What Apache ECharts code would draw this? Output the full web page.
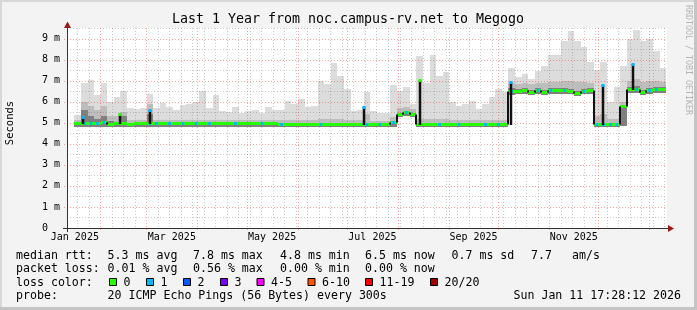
<!DOCTYPE html>
<html>
<head>
<meta charset="utf-8">
<script src="https://cdn.jsdelivr.net/npm/echarts@6.0.0/dist/echarts.min.js"></script>
<style>
html,body{margin:0;padding:0;background:#f3f3f3;}
#chart{width:697px;height:310px;}
</style>
</head>
<body>
<div id="chart"></div>
<script>
// ---------------- data ----------------
// 4-day buckets starting 2025-01-16 06:00 UTC
const bucketFirst = Date.UTC(2025, 0, 16, 6, 0, 0);
const bucketDays = 4;
const medianMs = [4.97,4.97,4.97,4.98,5.02,4.95,4.97,4.97,4.95,4.97,
  4.97,4.97,4.97,4.97,4.97,4.97,4.97,4.97,4.97,4.97,
  4.97,4.97,4.98,4.98,4.98,4.98,4.98,4.98,4.98,4.98,
  4.98,4.96,4.96,4.96,4.96,4.96,4.96,4.96,4.96,4.96,
  4.96,4.96,4.96,4.96,4.96,4.94,4.94,4.94,5.05,5.42,
  5.50,5.42,4.94,4.94,4.94,4.94,4.94,4.94,4.94,4.94,
  4.94,4.94,4.94,4.94,4.94,4.94,6.52,6.52,6.55,6.45,
  6.55,6.45,6.55,6.55,6.55,6.50,6.42,6.50,6.55,4.94,
  4.94,4.94,4.94,5.80,6.60,6.60,6.45,6.55,6.58,6.60];
const smokeLowMs = [4.80,4.80,4.80,4.80,4.80,4.80,4.80,4.80,4.80,4.80,
  4.80,4.80,4.80,4.80,4.80,4.80,4.80,4.80,4.80,4.80,
  4.80,4.80,4.80,4.80,4.80,4.80,4.80,4.80,4.80,4.80,
  4.80,4.80,4.80,4.80,4.80,4.80,4.80,4.80,4.80,4.80,
  4.80,4.80,4.80,4.80,4.80,4.78,4.78,4.78,4.80,5.25,
  5.30,5.25,4.80,4.78,4.78,4.78,4.78,4.78,4.78,4.78,
  4.78,4.78,4.78,4.78,4.78,4.78,6.30,6.35,6.38,6.30,
  6.38,6.30,6.38,6.38,6.38,6.35,6.28,6.35,6.38,4.80,
  4.80,4.80,4.80,4.85,6.42,6.40,6.30,6.38,6.40,6.42];
const smokeDarkMs = [4.97,5.60,5.30,5.20,5.30,5.10,5.05,5.30,4.95,4.97,
  4.97,5.40,4.97,4.97,4.97,4.97,4.97,4.97,4.97,4.97,
  4.97,4.97,4.98,4.98,4.98,4.98,4.98,4.98,4.98,4.98,
  4.98,4.96,4.96,4.96,4.96,4.96,4.96,4.96,4.96,4.96,
  4.96,4.96,4.96,4.96,4.96,4.94,4.94,4.94,5.05,5.42,
  5.50,5.42,4.94,4.94,4.94,4.94,4.94,4.94,4.94,4.94,
  4.94,4.94,4.94,4.94,4.94,4.94,6.65,6.62,6.65,6.55,
  6.65,6.55,6.65,6.65,6.65,6.60,6.52,6.60,6.65,5.00,
  4.94,4.94,4.94,5.85,6.70,6.75,6.55,6.65,6.68,6.70];
const smokeMidMs = [5.15,6.00,5.80,5.60,5.80,5.30,5.30,5.50,5.15,5.15,
  5.15,5.90,5.15,5.15,5.15,5.15,5.15,5.15,5.15,5.15,
  5.15,5.15,5.15,5.15,5.15,5.15,5.15,5.15,5.15,5.15,
  5.15,5.15,5.15,5.15,5.15,5.15,5.15,5.20,5.20,5.20,
  5.20,5.15,5.15,5.15,5.40,5.10,5.10,5.10,5.25,5.70,
  5.75,5.65,5.20,5.20,5.20,5.20,5.20,5.15,5.15,5.15,
  5.15,5.15,5.15,5.15,5.15,5.15,6.90,6.85,6.90,6.85,
  6.90,6.90,6.95,6.95,7.00,7.00,6.95,6.95,6.90,5.30,
  5.40,5.20,5.20,6.00,7.00,7.10,6.95,7.00,7.00,6.95];
const smokeMaxMs = [5.35,6.90,7.05,6.30,6.90,6.00,6.20,6.50,5.70,5.65,
  5.70,6.35,5.70,5.95,5.75,5.60,5.85,5.90,6.00,6.50,
  5.70,6.30,5.55,5.50,5.75,5.45,5.55,5.60,5.45,5.75,
  5.60,5.60,6.05,5.90,6.15,5.75,5.80,7.00,6.85,7.85,
  7.20,6.60,5.55,5.60,6.45,5.55,5.45,5.45,6.80,6.50,
  6.70,5.90,8.15,6.90,8.20,7.20,7.40,6.00,5.80,5.90,
  6.05,5.65,5.90,6.20,6.60,6.45,7.60,7.15,7.30,7.10,
  7.45,7.70,8.20,8.20,8.90,9.35,8.90,8.60,7.90,7.50,
  7.90,6.00,6.70,7.70,9.00,9.40,8.90,9.00,8.40,7.60];
const lossIndex = [0,1,1,1,1,0,0,0,0,0,
  0,1,1,0,1,0,1,0,1,0,
  1,0,0,0,1,0,0,0,1,0,
  0,1,0,0,0,0,0,1,0,0,
  0,0,0,0,1,0,1,0,1,0,
  1,0,0,0,0,1,0,0,1,0,
  0,0,1,0,1,0,1,0,0,0,
  1,0,1,0,1,0,0,1,0,1,
  1,1,1,0,0,1,0,1,1,0];

// short-lived median spikes (date, level before, peak, loss colour index)
const spikeDates = ['2025-01-21T04:00Z','2025-02-12T23:00Z','2025-03-02T22:00Z','2025-07-11T10:00Z',
  '2025-08-14T11:00Z','2025-10-08T13:00Z','2025-12-04T02:00Z','2025-12-21T22:00Z'];
const spikeBaseMs = [4.97,4.97,4.97,4.96,4.94,4.94,4.94,6.60];
const spikePeakMs = [5.28,5.40,5.62,5.76,7.03,6.92,6.80,7.80];
const spikeLoss = [1,0,1,1,0,1,1,1];

const yTickValues = [0,1,2,3,4,5,6,7,8,9];
const xLabelMonths = [[2025,0],[2025,2],[2025,4],[2025,6],[2025,8],[2025,10]];
const monthNames = ['Jan','Feb','Mar','Apr','May','Jun','Jul','Aug','Sep','Oct','Nov','Dec'];
const lossLabels = ['0','1','2','3','4-5','6-10','11-19','20/20'];
const lossColors = ['#26ff00','#00b8ff','#0059ff','#7e00ff','#ff00ff','#ff5500','#ff0000','#a10000'];
const rttStats = ['5.3 ms avg','7.8 ms max','4.8 ms min','6.5 ms now','0.7 ms sd','7.7','am/s'];
const lossStats = ['0.01 % avg','0.56 % max','0.00 % min','0.00 % now'];
const titleText = 'Last 1 Year from noc.campus-rv.net to Megogo';
const probeText = '20 ICMP Echo Pings (56 Bytes) every 300s';
const dateText = 'Sun Jan 11 17:28:12 2026';

// ---------------- build ----------------
const DAY = 86400000;
const T0 = Date.UTC(2025, 0, 11, 17, 28, 12);
const T1 = Date.UTC(2026, 0, 11, 17, 28, 12);
const bucketMs = bucketDays * DAY;
const rows = medianMs.map((m, i) => [
  bucketFirst + i * bucketMs, bucketFirst + (i + 1) * bucketMs,
  smokeLowMs[i], smokeDarkMs[i], smokeMidMs[i], smokeMaxMs[i],
  m, i > 0 ? medianMs[i - 1] : m, lossIndex[i]
]);
const spikeRows = spikeDates.map((d, i) => [Date.parse(d), spikeBaseMs[i], spikePeakMs[i], spikeLoss[i]]);

// grid lines: weekly (minor), monthly (major), horizontal
const monthStarts = [];
for (let m = 1; m <= 12; m++) monthStarts.push(Date.UTC(2025, m, 1));
const gridRows = [];
for (let t = Date.UTC(2025, 0, 18); t < T1; t += 7 * DAY) {
  if (monthStarts.indexOf(t) < 0) gridRows.push([t, 0, 0]);
}
monthStarts.forEach(t => gridRows.push([t, 0, 1]));
for (let k = 1; k <= 19; k++) gridRows.push([T0, k / 2, k % 2 === 0 ? 3 : 2]);

const labelTimes = xLabelMonths.map(([y, m]) => (Date.UTC(y, m, 1) + Date.UTC(y, m + 1, 1)) / 2);
const MONO = '"DejaVu Sans Mono", monospace';

function gridItem(params, api) {
  const cs = params.coordSys;
  const kind = api.value(2);
  const major = kind % 2 === 1;
  const style = { stroke: major ? 'rgba(255,0,0,0.36)' : 'rgba(120,120,120,0.38)', lineWidth: 1, lineDash: [1, 2] };
  if (kind < 2) {
    const x = Math.round(api.coord([api.value(0), 0])[0]) + 0.5;
    return { type: 'line', shape: { x1: x, y1: cs.y, x2: x, y2: cs.y + cs.height + (major ? 3 : 0) }, style };
  }
  const y = Math.round(api.coord([T0, api.value(1)])[1]) + 0.5;
  return { type: 'line', shape: { x1: cs.x - (major ? 3 : 0), y1: y, x2: cs.x + cs.width, y2: y }, style };
}

function smokeItem(params, api) {
  const t0 = api.value(0), t1 = api.value(1);
  const xa = Math.round(api.coord([t0, 0])[0]);
  const xb = Math.round(api.coord([t1, 0])[0]);
  const band = (lo, hi, fill) => {
    const ya = Math.round(api.coord([t0, hi])[1]);
    const yb = Math.round(api.coord([t0, lo])[1]);
    return { type: 'rect', shape: { x: xa, y: ya, width: xb - xa, height: Math.max(0, yb - ya) }, style: { fill } };
  };
  return { type: 'group', children: [
    band(api.value(2), api.value(5), '#dcdcdc'),
    band(api.value(2), api.value(4), '#bdbdbd'),
    band(api.value(2), api.value(3), '#808080')
  ] };
}

function medianItem(params, api) {
  const t0 = api.value(0), t1 = api.value(1);
  const m = api.value(6), pm = api.value(7), li = api.value(8);
  const xa = Math.round(api.coord([t0, m])[0]);
  const xb = Math.round(api.coord([t1, m])[0]);
  const y = Math.round(api.coord([t0, m])[1]) + 0.5;
  const yp = Math.round(api.coord([t0, pm])[1]) + 0.5;
  const children = [{ type: 'line', shape: { x1: xa, y1: y, x2: xb, y2: y }, style: { stroke: lossColors[0], lineWidth: 3 } }];
  if (li > 0) {
    const w = xb - xa;
    children.push({ type: 'line', shape: { x1: xa + w * 0.3, y1: y, x2: xb - w * 0.3, y2: y }, style: { stroke: lossColors[li], lineWidth: 3 } });
  }
  if (params.dataIndex > 0 && Math.abs(pm - m) > 0.05) {
    children.push({ type: 'line', shape: { x1: xa, y1: yp, x2: xa, y2: y }, style: { stroke: '#111', lineWidth: 2 } });
  }
  return { type: 'group', children };
}

function spikeItem(params, api) {
  const t = api.value(0);
  const pb = api.coord([t, api.value(1)]);
  const pt = api.coord([t, api.value(2)]);
  const x = Math.round(pb[0]);
  const yt = Math.round(pt[1]);
  return { type: 'group', children: [
    { type: 'line', shape: { x1: x, y1: Math.round(pb[1]) + 1, x2: x, y2: yt }, style: { stroke: '#111', lineWidth: 2.5 } },
    { type: 'rect', shape: { x: x - 1.5, y: yt - 1, width: 3, height: 3 }, style: { fill: lossColors[api.value(3)] } }
  ] };
}

const graphics = [];
// frame shading
graphics.push({ type: 'rect', shape: { x: 0, y: 0, width: 697, height: 2 }, style: { fill: '#d8d8d8' }, z: 1 });
graphics.push({ type: 'rect', shape: { x: 0, y: 0, width: 2, height: 310 }, style: { fill: '#d8d8d8' }, z: 1 });
graphics.push({ type: 'rect', shape: { x: 0, y: 307, width: 697, height: 3 }, style: { fill: '#c4c4c4' }, z: 1 });
graphics.push({ type: 'rect', shape: { x: 694, y: 0, width: 3, height: 310 }, style: { fill: '#c4c4c4' }, z: 1 });
// axes with arrows
graphics.push({ type: 'line', shape: { x1: 63, y1: 228.5, x2: 669, y2: 228.5 }, style: { stroke: '#333', lineWidth: 1 }, z: 50 });
graphics.push({ type: 'polygon', shape: { points: [[668, 225], [674, 228.5], [668, 232]] }, style: { fill: '#9b1a1a' }, z: 50 });
graphics.push({ type: 'line', shape: { x1: 67.5, y1: 232, x2: 67.5, y2: 27 }, style: { stroke: '#333', lineWidth: 1 }, z: 50 });
graphics.push({ type: 'polygon', shape: { points: [[64, 28], [67.5, 21.5], [71, 28]] }, style: { fill: '#9b1a1a' }, z: 50 });
// title and side texts
const txt = (x, y, text, size, extra) => Object.assign({
  type: 'text', x, y, z: 50,
  style: Object.assign({ text, font: size + 'px ' + MONO, fill: '#000', align: 'left', verticalAlign: 'middle' }, extra || {})
});
graphics.push(txt(348, 20, titleText, 13.3, { align: 'center' }));
graphics.push(Object.assign(txt(0, 0, 'Seconds', 10.5, { align: 'center' }), { x: 10, y: 123, rotation: Math.PI / 2 }));
graphics.push(Object.assign(txt(0, 0, 'RRDTOOL / TOBI OETIKER', 8.3, { align: 'center', fill: '#b4b4b4' }), { x: 688, y: 60, rotation: -Math.PI / 2 }));
// legend rows
const colX = [107.6, 193, 280, 365, 451.5, 531, 572];
const F = 11.6;
graphics.push(txt(16, 256, 'median rtt:', F));
rttStats.forEach((s, i) => graphics.push(txt(colX[i], 256, s, F)));
graphics.push(txt(16, 269, 'packet loss:', F));
lossStats.forEach((s, i) => graphics.push(txt(colX[i], 269, s, F)));
graphics.push(txt(16, 282.5, 'loss color:', F));
const boxX = [109, 146, 183, 220, 256.5, 307.5, 365, 430];
lossLabels.forEach((l, i) => {
  graphics.push({ type: 'rect', z: 50, shape: { x: boxX[i] + 0.5, y: 278.5, width: 7, height: 7 }, style: { fill: lossColors[i], stroke: '#000', lineWidth: 1 } });
  graphics.push(txt(boxX[i] + 14.5, 282.5, l, F));
});
graphics.push(txt(16, 296, 'probe:', F));
graphics.push(txt(107.6, 296, probeText, F));
graphics.push(txt(681, 296, dateText, F, { align: 'right' }));

const chart = echarts.init(document.getElementById('chart'), null, { renderer: 'canvas' });
chart.setOption({
  animation: false,
  backgroundColor: '#f3f3f3',
  grid: { left: 67, top: 28, width: 600, height: 200, show: true, backgroundColor: '#ffffff', borderWidth: 0 },
  xAxis: {
    type: 'value', min: T0, max: T1,
    axisLine: { show: false }, splitLine: { show: false }, axisTick: { show: false },
    axisLabel: {
      customValues: labelTimes,
      formatter: v => { const d = new Date(v); return monthNames[d.getUTCMonth()] + ' ' + d.getUTCFullYear(); },
      fontFamily: MONO, fontSize: 10, color: '#000', margin: 4
    }
  },
  yAxis: {
    type: 'value', min: 0, max: 9.5, interval: 1,
    axisLine: { show: false }, splitLine: { show: false }, axisTick: { show: false },
    axisLabel: {
      customValues: yTickValues,
      formatter: v => v === 0 ? '0  ' : v + ' m',
      fontFamily: MONO, fontSize: 10, color: '#000', margin: 7
    }
  },
  graphic: graphics,
  series: [
    { type: 'custom', name: 'smoke', z: 1, silent: true, renderItem: smokeItem, data: rows, encode: { x: 0, y: 5 } },
    { type: 'custom', name: 'grid', z: 2, silent: true, renderItem: gridItem, data: gridRows, encode: { x: 0, y: 1 } },
    { type: 'custom', name: 'median', z: 3, silent: true, renderItem: medianItem, data: rows, encode: { x: 0, y: 6 } },
    { type: 'custom', name: 'spikes', z: 4, silent: true, renderItem: spikeItem, data: spikeRows, encode: { x: 0, y: 2 } }
  ]
});
</script>
</body>
</html>
